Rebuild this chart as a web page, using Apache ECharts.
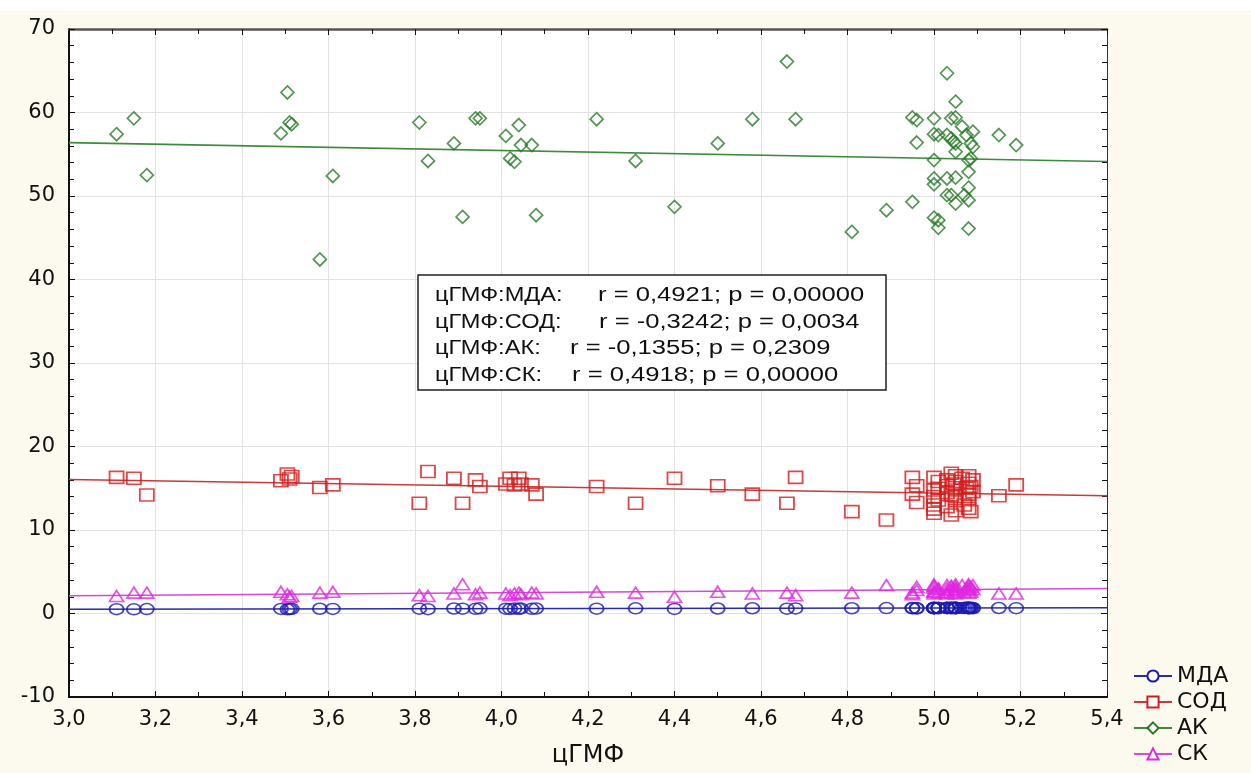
<!DOCTYPE html>
<html>
<head>
<meta charset="utf-8">
<script src="https://cdn.jsdelivr.net/npm/echarts@6/dist/echarts.min.js"></script>
<style>
  html, body { margin: 0; padding: 0; background: #fcf9ee; }
  #chart { width: 1251px; height: 773px; }
</style>
</head>
<body>
<div id="chart"></div>
<script>
// цГМФ for every subject, with the four paired measurements
const cgmp = [
  3.11, 3.15, 3.18, 3.49, 3.505, 3.51, 3.515, 3.58, 3.61, 3.81, 3.83, 3.89, 3.91, 3.94, 3.95, 4.01,
  4.02, 4.03, 4.04, 4.045, 4.07, 4.08, 4.22, 4.31, 4.40, 4.50, 4.58, 4.66, 4.68, 4.81, 4.89,
  4.95, 4.96, 4.96, 4.95, 5.00, 5.00, 5.01, 5.00, 5.00, 5.00, 5.00, 5.01, 5.01, 5.03, 5.03,
  5.03, 5.03, 5.04, 5.04, 5.04, 5.045, 5.05, 5.05, 5.05, 5.05, 5.05, 5.05, 5.065, 5.07, 5.075,
  5.08, 5.08, 5.08, 5.08, 5.08, 5.085, 5.085, 5.09, 5.09, 5.15, 5.19
];
const mda = [
  0.52, 0.50, 0.53, 0.55, 0.50, 0.54, 0.56, 0.57, 0.55, 0.58, 0.52, 0.60, 0.58, 0.56, 0.62, 0.58,
  0.55, 0.60, 0.57, 0.61, 0.56, 0.60, 0.58, 0.62, 0.55, 0.60, 0.63, 0.58, 0.61, 0.63, 0.65,
  0.62, 0.65, 0.60, 0.66, 0.68, 0.64, 0.70, 0.66, 0.62, 0.69, 0.65, 0.67, 0.63, 0.70, 0.66,
  0.64, 0.68, 0.65, 0.71, 0.62, 0.67, 0.69, 0.64, 0.66, 0.70, 0.63, 0.68, 0.65, 0.67, 0.71,
  0.64, 0.66, 0.69, 0.62, 0.68, 0.65, 0.70, 0.63, 0.67, 0.66, 0.64
];
const sod = [
  16.3, 16.2, 14.2, 15.9, 16.7, 16.1, 16.4, 15.1, 15.4, 13.2, 17.0, 16.2, 13.2, 16.0, 15.2, 15.5,
  16.2, 15.4, 16.2, 15.5, 15.4, 14.3, 15.2, 13.2, 16.2, 15.3, 14.3, 13.2, 16.3, 12.2, 11.2,
  16.3, 15.3, 13.3, 14.3, 14.0, 12.5, 15.8, 13.0, 16.3, 14.8, 12.0, 13.6, 15.0, 14.5, 16.0,
  12.8, 15.3, 14.2, 16.8, 11.8, 15.5, 13.5, 16.5, 14.0, 12.3, 15.8, 14.8, 16.2, 13.0, 15.0,
  14.3, 12.6, 16.5, 15.6, 13.8, 12.2, 15.2, 16.0, 14.6, 14.1, 15.4
];
const ak = [
  57.4, 59.3, 52.5, 57.5, 62.4, 58.8, 58.6, 42.4, 52.4, 58.8, 54.2, 56.3, 47.5, 59.3, 59.3, 57.2,
  54.5, 54.1, 58.5, 56.1, 56.1, 47.7, 59.2, 54.2, 48.7, 56.3, 59.2, 66.1, 59.2, 45.7, 48.3,
  59.4, 59.1, 56.4, 49.3, 59.3, 57.4, 57.3, 54.3, 52.1, 51.4, 47.4, 47.1, 46.2, 64.7, 57.3,
  52.1, 50.1, 59.3, 56.9, 50.1, 56.5, 61.3, 59.4, 56.3, 55.3, 52.2, 49.1, 58.3, 50.1, 57.3,
  54.3, 52.9, 51.0, 49.5, 46.1, 56.3, 54.5, 57.7, 55.9, 57.3, 56.1
];
const sk = [
  2.1, 2.5, 2.5, 2.6, 2.3, 2.0, 2.1, 2.5, 2.6, 2.2, 2.1, 2.4, 3.5, 2.3, 2.5, 2.4,
  2.2, 2.4, 2.5, 2.3, 2.5, 2.4, 2.6, 2.5, 2.0, 2.6, 2.4, 2.5, 2.2, 2.5, 3.4,
  2.5, 2.8, 3.2, 2.3, 3.3, 2.6, 3.0, 2.4, 3.5, 2.7, 3.1, 2.5, 2.9, 3.4, 2.6,
  3.0, 2.4, 3.3, 2.8, 3.2, 2.5, 3.5, 2.7, 3.0, 2.4, 3.2, 2.9, 3.4, 2.6, 3.1,
  3.3, 2.5, 3.0, 3.5, 2.8, 3.2, 2.6, 3.4, 2.9, 2.4, 2.4
];

const seriesNames = ['МДА', 'СОД', 'АК', 'СК'];
const seriesValues = [mda, sod, ak, sk];

// axis ranges: [min, max, step]
const xRange = [3.0, 5.4, 0.2];
const yRange = [-10, 70, 10];

// correlation summary shown in the box
const statLabels = ['цГМФ:МДА:', 'цГМФ:СОД:', 'цГМФ:АК:', 'цГМФ:СК:'];
const statValues = [
  'r = 0,4921; p = 0,00000',
  'r = -0,3242; p = 0,0034',
  'r = -0,1355; p = 0,2309',
  'r = 0,4918; p = 0,00000'
];
const statValueX = [598, 599, 570, 572];

// appearance of each group
const styles = [
  { symbol: 'circle',   empty: 'emptyCircle',   size: [14, 11], point: '#1a1ab0', line: '#2b2ba8' },
  { symbol: 'rect',     empty: 'emptyRect',     size: [14, 12], point: '#d41c1c', line: '#c53a3a' },
  { symbol: 'diamond',  empty: 'emptyDiamond',  size: [13, 13], point: '#2a7a2a', line: '#3d8b3d' },
  { symbol: 'triangle', empty: 'emptyTriangle', size: [14, 11], point: '#e028e0', line: '#d44ad4' }
];

// least-squares straight line across the x range
function fitLine(xs, ys, x0, x1) {
  const n = xs.length;
  let mx = 0, my = 0;
  for (let i = 0; i < n; i++) { mx += xs[i]; my += ys[i]; }
  mx /= n; my /= n;
  let sxx = 0, sxy = 0;
  for (let i = 0; i < n; i++) {
    sxx += (xs[i] - mx) * (xs[i] - mx);
    sxy += (xs[i] - mx) * (ys[i] - my);
  }
  const b = sxy / sxx;
  const a = my - b * mx;
  return [[x0, a + b * x0], [x1, a + b * x1]];
}

const font = 'DejaVu Sans';
const fmtComma = v => v.toFixed(1).replace('.', ',');

const lineSeries = seriesNames.map((name, i) => ({
  type: 'line',
  name: name,
  data: fitLine(cgmp, seriesValues[i], xRange[0], xRange[1]),
  color: styles[i].point,
  symbol: styles[i].empty,
  showSymbol: false,
  lineStyle: { color: styles[i].line, width: 1.6 },
  silent: true,
  z: 2
}));

const pointSeries = seriesNames.map((name, i) => ({
  type: 'scatter',
  name: name,
  data: cgmp.map((x, j) => [x, seriesValues[i][j]]),
  symbol: styles[i].symbol,
  symbolSize: styles[i].size,
  itemStyle: { color: 'rgba(255,255,255,0)', borderColor: styles[i].point, borderWidth: 1.7 },
  z: 3
}));

const tickStyle = { color: '#111', width: 1 };

// text of the correlation box
const boxTexts = [
  {
    type: 'text', x: 435, y: 282, z: 101, silent: true, scaleX: 1.18,
    style: { text: statLabels.join('\n'), font: '20px "Liberation Sans"', lineHeight: 26.7, fill: '#111' }
  }
].concat(statValues.map((t, i) => ({
  type: 'text', x: statValueX[i], y: 282 + i * 26.7, z: 101, silent: true, scaleX: 1.28,
  style: { text: t, font: '20px "Liberation Sans"', lineHeight: 26.7, fill: '#111' }
})));

const chart = echarts.init(document.getElementById('chart'), null, { renderer: 'canvas' });
chart.setOption({
  animation: false,
  backgroundColor: '#fcf9ee',
  grid: {
    left: 69, right: 144, top: 29, bottom: 76,
    show: true, backgroundColor: '#ffffff', borderWidth: 0
  },
  xAxis: [
    {
      type: 'value', position: 'bottom',
      min: xRange[0], max: xRange[1], interval: xRange[2],
      axisLine: { show: true, onZero: false, lineStyle: { color: '#111', width: 2 } },
      axisTick: { show: true, inside: true, length: 6, lineStyle: tickStyle },
      minorTick: { show: true, splitNumber: 2, length: 5, lineStyle: tickStyle },
      splitLine: { show: true, lineStyle: { color: '#e2e2e2', width: 1 } },
      axisLabel: { formatter: fmtComma, fontFamily: font, fontSize: 21, color: '#111', margin: 12 },
      name: 'цГМФ', nameLocation: 'middle', nameGap: 47,
      nameTextStyle: { fontFamily: font, fontSize: 24, color: '#111' }
    },
    {
      type: 'value', position: 'top',
      min: xRange[0], max: xRange[1], interval: xRange[2],
      axisLine: { show: true, onZero: false, lineStyle: { color: '#555', width: 2.5 } },
      axisTick: { show: true, inside: true, length: 6, lineStyle: tickStyle },
      minorTick: { show: true, splitNumber: 2, length: 5, lineStyle: tickStyle },
      splitLine: { show: false },
      axisLabel: { show: false }
    }
  ],
  yAxis: [
    {
      type: 'value', position: 'left',
      min: yRange[0], max: yRange[1], interval: yRange[2],
      axisLine: { show: true, onZero: false, lineStyle: { color: '#111', width: 2 } },
      axisTick: { show: true, inside: true, length: 6, lineStyle: tickStyle },
      minorTick: { show: true, splitNumber: 5, length: 5, lineStyle: tickStyle },
      splitLine: { show: true, lineStyle: { color: '#e2e2e2', width: 1 } },
      axisLabel: { fontFamily: font, fontSize: 21, color: '#111', margin: 14 }
    },
    {
      type: 'value', position: 'right',
      min: yRange[0], max: yRange[1], interval: yRange[2],
      axisLine: { show: true, onZero: false, lineStyle: { color: '#333', width: 1 } },
      axisTick: { show: true, inside: true, length: 6, lineStyle: tickStyle },
      minorTick: { show: true, splitNumber: 5, length: 5, lineStyle: tickStyle },
      splitLine: { show: false },
      axisLabel: { show: false }
    }
  ],
  legend: {
    data: seriesNames,
    orient: 'vertical',
    left: 1128, top: 660,
    itemWidth: 38, itemHeight: 14, itemGap: 4,
    textStyle: { fontFamily: font, fontSize: 22, color: '#111' },
    selectedMode: false
  },
  graphic: [
    {
      type: 'rect', x: 0, y: 0, silent: true,
      shape: { width: 1251, height: 10 },
      style: { fill: '#ffffff' }
    },
    {
      type: 'rect', x: 418, y: 275, z: 100, silent: true,
      shape: { width: 468, height: 115 },
      style: { fill: '#ffffff', stroke: '#222', lineWidth: 1.5 }
    }
  ].concat(boxTexts),
  series: lineSeries.concat(pointSeries)
});
</script>
</body>
</html>
